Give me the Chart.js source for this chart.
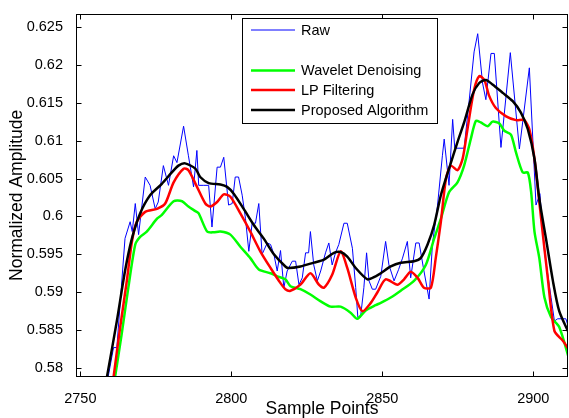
<!DOCTYPE html>
<html>
<head>
<meta charset="utf-8">
<script src="https://cdn.jsdelivr.net/npm/chart.js@4"></script>
<style>
  html, body { margin: 0; padding: 0; background: #fff; }
  #wrap { width: 569px; height: 418px; }
</style>
</head>
<body>
<div id="wrap"><canvas id="chart" width="569" height="418"></canvas></div>
<script>
// Datos (Sample Points vs Normalized Amplitude)
const xTicks = [2750, 2800, 2850, 2900];
const yTicks = [0.58, 0.585, 0.59, 0.595, 0.6, 0.605, 0.61, 0.615, 0.62, 0.625];

const rawX = [
  2759.2, 2761.0, 2762.1, 2764.8, 2766.5, 2767.2, 2768.2, 2769.3, 2771.5, 2773.1,
  2774.8, 2775.8, 2777.5, 2779.2, 2780.9, 2782.0, 2784.2, 2785.8, 2787.5, 2788.6,
  2789.2, 2790.7, 2792.5, 2793.6, 2795.3, 2796.4, 2797.5, 2799.1, 2800.3, 2801.3,
  2802.4, 2803.6, 2804.7, 2805.8, 2806.9, 2808.0, 2809.1, 2810.2, 2811.9, 2813.0,
  2814.1, 2815.2, 2816.3, 2817.4, 2818.5, 2820.2, 2821.3, 2822.4, 2823.5, 2824.6,
  2825.6, 2826.2, 2827.3, 2828.5, 2829.6, 2831.2, 2832.3, 2833.4, 2834.5, 2835.6,
  2837.3, 2838.4, 2840.1, 2841.2, 2841.9, 2842.8, 2843.9, 2844.8, 2845.6, 2846.7,
  2847.8, 2849.5, 2851.1, 2852.2, 2853.9, 2855.4, 2856.7, 2858.3, 2859.4, 2861.1,
  2862.2, 2863.8, 2865.5, 2866.6, 2868.3, 2869.9, 2870.5, 2872.1, 2873.3, 2874.0,
  2877.1, 2878.7, 2880.4, 2881.6, 2883.2, 2884.3, 2886.0, 2887.1, 2889.3, 2892.4,
  2895.4, 2898.7, 2900.9, 2902.2, 2903.7, 2905.9, 2907.0, 2908.1, 2910.8, 2912.0
];
const rawY = [
  0.5788, 0.5827, 0.5827, 0.5971, 0.5993, 0.5980, 0.6017, 0.5976, 0.6052, 0.6041,
  0.6010, 0.6019, 0.6067, 0.6041, 0.6080, 0.6071, 0.6119, 0.6080, 0.6039, 0.6087,
  0.6041, 0.6041, 0.6041, 0.5986, 0.6065, 0.6065, 0.6078, 0.6015, 0.6017, 0.6052,
  0.6052, 0.6028, 0.5997, 0.5954, 0.5991, 0.5991, 0.6017, 0.5950, 0.5965, 0.5963,
  0.5950, 0.5928, 0.5955, 0.5906, 0.5928, 0.5941, 0.5941, 0.5910, 0.5919, 0.5952,
  0.5952, 0.5980, 0.5936, 0.5915, 0.5928, 0.5952, 0.5965, 0.5936, 0.5952, 0.5963,
  0.5991, 0.5991, 0.5958, 0.5906, 0.5867, 0.5867, 0.5906, 0.5952, 0.5915, 0.5904,
  0.5904, 0.5921, 0.5967, 0.5936, 0.5915, 0.5930, 0.5945, 0.5967, 0.5919, 0.5965,
  0.5965, 0.5928, 0.5891, 0.5963, 0.6015, 0.6080, 0.6102, 0.6041, 0.6128, 0.6090,
  0.6090, 0.6150, 0.6217, 0.6241, 0.6176, 0.6154, 0.6215, 0.6215, 0.6091, 0.6216,
  0.6089, 0.6196, 0.6015, 0.6030, 0.5954, 0.5893, 0.5862, 0.5865, 0.5865, 0.5849
];

const waveletX = [
  2761.5, 2763.7, 2765.9, 2768.2, 2769.8, 2772.0, 2775.4, 2777.0, 2780.9, 2783.7,
  2785.8, 2788.1, 2789.2, 2792.0, 2794.1, 2796.4, 2799.7, 2803.0, 2806.3, 2809.1,
  2813.0, 2815.2, 2817.9, 2819.6, 2822.9, 2826.2, 2829.6, 2832.9, 2836.2, 2839.5,
  2841.7, 2844.5, 2847.8, 2849.5, 2852.8, 2856.1, 2860.5, 2864.4, 2867.2, 2869.4,
  2872.1, 2874.9, 2877.1, 2879.3, 2881.0, 2882.6, 2884.9, 2886.5, 2888.7, 2890.4,
  2892.6, 2894.3, 2896.5, 2898.2, 2899.3, 2900.4, 2902.0, 2903.7, 2905.9, 2908.6,
  2912.0
];
const waveletY = [
  0.5788, 0.5845, 0.5906, 0.5963, 0.5973, 0.5980, 0.5997, 0.6002, 0.6020, 0.6020,
  0.6013, 0.6007, 0.6004, 0.5980, 0.5979, 0.5980, 0.5976, 0.5960, 0.5945, 0.5930,
  0.5925, 0.5921, 0.5917, 0.5908, 0.5904, 0.5897, 0.5888, 0.5881, 0.5881, 0.5873,
  0.5865, 0.5876, 0.5883, 0.5886, 0.5893, 0.5902, 0.5915, 0.5936, 0.5971, 0.5997,
  0.6032, 0.6045, 0.6067, 0.6102, 0.6126, 0.6124, 0.6119, 0.6125, 0.6123, 0.6113,
  0.6108, 0.6084, 0.6058, 0.6058, 0.6032, 0.5980, 0.5945, 0.5893, 0.5867, 0.5854,
  0.5810
];

const lpX = [
  2761.0, 2763.2, 2765.4, 2767.1, 2768.7, 2771.5, 2775.4, 2778.1, 2780.9, 2784.2,
  2785.8, 2788.4, 2791.4, 2793.0, 2795.3, 2797.5, 2799.7, 2803.0, 2806.3, 2809.6,
  2813.0, 2816.3, 2817.9, 2819.6, 2822.9, 2826.2, 2829.0, 2830.7, 2833.4, 2836.2,
  2838.4, 2841.2, 2843.4, 2846.2, 2848.4, 2851.1, 2855.0, 2857.2, 2859.4, 2861.7,
  2863.8, 2866.1, 2867.7, 2869.4, 2871.1, 2872.7, 2874.9, 2876.6, 2878.2, 2880.4,
  2882.1, 2883.8, 2885.4, 2887.6, 2891.0, 2894.3, 2897.0, 2898.7, 2900.4, 2902.6,
  2904.8, 2907.0, 2909.8, 2912.0
];
const lpY = [
  0.5788, 0.5854, 0.5915, 0.5967, 0.5993, 0.6006, 0.6010, 0.6017, 0.6045, 0.6063,
  0.6061, 0.6041, 0.6017, 0.6013, 0.6019, 0.6029, 0.6026, 0.6004, 0.5980, 0.5954,
  0.5932, 0.5912, 0.5904, 0.5902, 0.5910, 0.5925, 0.5910, 0.5906, 0.5923, 0.5954,
  0.5932, 0.5893, 0.5875, 0.5886, 0.5900, 0.5917, 0.5910, 0.5917, 0.5927, 0.5919,
  0.5906, 0.5906, 0.5945, 0.5993, 0.6050, 0.6067, 0.6061, 0.6076, 0.6115, 0.6167,
  0.6185, 0.6180, 0.6159, 0.6143, 0.6132, 0.6127, 0.6127, 0.6115, 0.6076, 0.5997,
  0.5919, 0.5849, 0.5836, 0.5823
];

const proposedX = [
  2758.8, 2762.1, 2764.8, 2767.1, 2769.8, 2773.1, 2777.0, 2780.3, 2782.5, 2784.7,
  2788.1, 2789.7, 2792.5, 2796.4, 2798.6, 2800.8, 2804.1, 2807.4, 2810.7, 2814.1,
  2817.9, 2819.0, 2822.9, 2827.3, 2830.7, 2834.0, 2836.2, 2838.4, 2841.2, 2845.1,
  2847.8, 2849.5, 2852.8, 2856.1, 2860.5, 2862.7, 2865.0, 2867.2, 2869.4, 2872.1,
  2874.9, 2877.1, 2879.9, 2882.1, 2884.3, 2886.5, 2889.9, 2893.2, 2895.9, 2898.2,
  2900.4, 2902.0, 2904.2, 2906.5, 2908.6, 2911.9
];
const proposedY = [
  0.5788, 0.5862, 0.5928, 0.5971, 0.6004, 0.6028, 0.6043, 0.6058, 0.6067, 0.6070,
  0.6063, 0.6052, 0.6044, 0.6042, 0.6039, 0.6030, 0.6010, 0.5989, 0.5971, 0.5950,
  0.5934, 0.5932, 0.5934, 0.5939, 0.5943, 0.5952, 0.5953, 0.5947, 0.5932, 0.5917,
  0.5921, 0.5925, 0.5934, 0.5939, 0.5941, 0.5945, 0.5963, 0.5989, 0.6028, 0.6063,
  0.6098, 0.6124, 0.6161, 0.6176, 0.6180, 0.6174, 0.6163, 0.6152, 0.6137, 0.6115,
  0.6076, 0.6023, 0.5971, 0.5915, 0.5875, 0.5845
];

const xMin = 2748.57, xMax = 2911.5;
const yMin = 0.57882, yMax = 0.62674;

const fontFamily = '"Liberation Sans", Arial, sans-serif';

function toPoints(xs, ys) {
    return xs.map((x, i) => ({ x: x, y: ys[i] }));
}

// Marco tipo MATLAB con ticks hacia dentro + leyenda dentro del área
const framePlugin = {
    id: 'frame',
    afterDatasetsDraw(chart) {
        const { ctx, chartArea: a, scales } = chart;
        const left = Math.round(a.left) + 0.5;
        const right = Math.round(a.right) - 0.5;
        const top = Math.round(a.top) + 0.5;
        const bottom = Math.round(a.bottom) - 0.5;
        const tl = 5;
        ctx.save();
        ctx.strokeStyle = '#000';
        ctx.lineWidth = 1;
        ctx.strokeRect(left, top, right - left, bottom - top);
        ctx.beginPath();
        xTicks.forEach(v => {
            const px = Math.round(scales.x.getPixelForValue(v)) + 0.5;
            ctx.moveTo(px, bottom); ctx.lineTo(px, bottom - tl);
            ctx.moveTo(px, top); ctx.lineTo(px, top + tl);
        });
        yTicks.forEach(v => {
            const py = Math.round(scales.y.getPixelForValue(v)) + 0.5;
            ctx.moveTo(left, py); ctx.lineTo(left + tl, py);
            ctx.moveTo(right, py); ctx.lineTo(right - tl, py);
        });
        ctx.stroke();

        // Leyenda (con una fila vacía después de "Raw")
        const box = { x: 242.5, y: 18.5, w: 195, h: 105 };
        ctx.fillStyle = '#fff';
        ctx.fillRect(box.x, box.y, box.w, box.h);
        ctx.strokeRect(box.x, box.y, box.w, box.h);
        const rows = [0, null, 1, 2, 3];
        const rowY = [30, 50, 70.5, 90, 110];
        ctx.font = '14.5px ' + fontFamily;
        ctx.textBaseline = 'middle';
        ctx.textAlign = 'left';
        rows.forEach((idx, r) => {
            if (idx === null) return;
            const ds = chart.data.datasets[idx];
            const yy = rowY[r];
            ctx.beginPath();
            ctx.strokeStyle = ds.borderColor;
            ctx.lineWidth = ds.borderWidth;
            ctx.moveTo(251, yy);
            ctx.lineTo(295, yy);
            ctx.stroke();
            ctx.fillStyle = '#000';
            ctx.fillText(ds.label, 301, yy + 0.5);
        });
        ctx.restore();
    }
};

new Chart(document.getElementById('chart'), {
    type: 'line',
    data: {
        datasets: [
            {
                label: 'Raw',
                data: toPoints(rawX, rawY),
                borderColor: '#0000ff',
                borderWidth: 1,
                tension: 0,
                order: 4
            },
            {
                label: 'Wavelet Denoising',
                data: toPoints(waveletX, waveletY),
                borderColor: '#00ff00',
                borderWidth: 2.5,
                tension: 0.25,
                order: 3
            },
            {
                label: 'LP Filtering',
                data: toPoints(lpX, lpY),
                borderColor: '#ff0000',
                borderWidth: 2.5,
                tension: 0.25,
                order: 2
            },
            {
                label: 'Proposed Algorithm',
                data: toPoints(proposedX, proposedY),
                borderColor: '#000000',
                borderWidth: 2.5,
                tension: 0.25,
                order: 1
            }
        ]
    },
    options: {
        responsive: false,
        animation: false,
        devicePixelRatio: 1,
        layout: { padding: { left: 0, right: 1, top: 10, bottom: 0 } },
        elements: { point: { radius: 0 } },
        plugins: {
            legend: { display: false },
            tooltip: { enabled: false }
        },
        scales: {
            x: {
                type: 'linear',
                min: xMin,
                max: xMax,
                grid: { display: false },
                border: { display: false },
                afterBuildTicks: s => { s.ticks = xTicks.map(v => ({ value: v })); },
                afterFit: s => { s.height = 41; },
                ticks: {
                    color: '#000',
                    padding: 5,
                    maxRotation: 0,
                    font: { family: fontFamily, size: 14.5 },
                    callback: v => String(v)
                },
                title: {
                    display: true,
                    text: 'Sample Points',
                    color: '#000',
                    padding: { top: 0, bottom: 0 },
                    font: { family: fontFamily, size: 17.5, lineHeight: 1 }
                }
            },
            y: {
                type: 'linear',
                min: yMin,
                max: yMax,
                grid: { display: false },
                border: { display: false },
                afterBuildTicks: s => { s.ticks = yTicks.map(v => ({ value: v })); },
                afterFit: s => { s.width = 76; },
                ticks: {
                    color: '#000',
                    padding: 5,
                    font: { family: fontFamily, size: 14.5 },
                    callback: v => String(+v.toFixed(3))
                },
                title: {
                    display: true,
                    text: 'Normalized Amplitude',
                    color: '#000',
                    padding: { top: 8, bottom: 0 },
                    font: { family: fontFamily, size: 17.5, lineHeight: 1 }
                }
            }
        }
    },
    plugins: [framePlugin]
});
</script>
</body>
</html>
